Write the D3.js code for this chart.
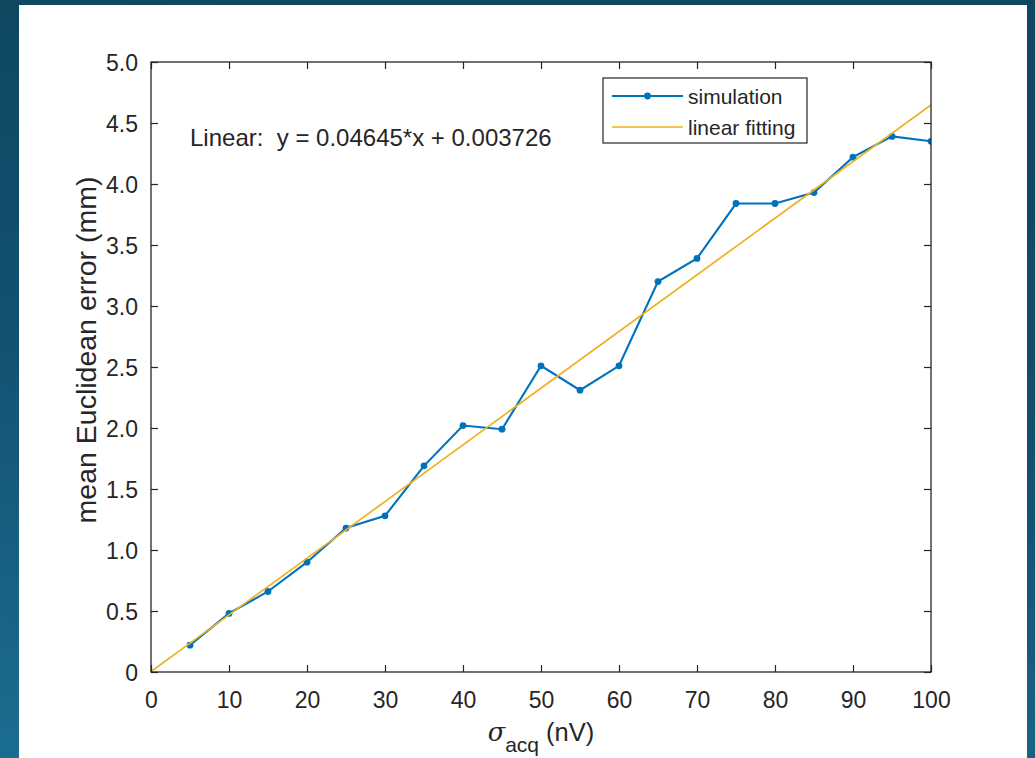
<!DOCTYPE html>
<html>
<head>
<meta charset="utf-8">
<script src="https://cdn.jsdelivr.net/npm/d3@7"></script>
<style>
  html, body { margin: 0; padding: 0; }
  body { width: 1035px; height: 758px; overflow: hidden; }
  text { font-family: "Liberation Sans", Arial, Helvetica, sans-serif; fill: #262626; white-space: pre; }
</style>
</head>
<body>
<svg id="chart" width="1035" height="758"></svg>
<script>
// ---- data ----
const sigma = [5, 10, 15, 20, 25, 30, 35, 40, 45, 50, 55, 60, 65, 70, 75, 80, 85, 90, 95, 100];
const meanError = [0.22, 0.48, 0.66, 0.90, 1.18, 1.28, 1.69, 2.02, 1.99, 2.51, 2.31, 2.51, 3.20, 3.39, 3.84, 3.84, 3.93, 4.22, 4.39, 4.35];
const fitSlope = 0.04645;
const fitIntercept = 0.003726;
const fitX = [0, 100];
const xTicks = [0, 10, 20, 30, 40, 50, 60, 70, 80, 90, 100];
const yTicks = [0, 0.5, 1.0, 1.5, 2.0, 2.5, 3.0, 3.5, 4.0, 4.5, 5.0];
const legendLabels = ["simulation", "linear fitting"];
const annotation = "Linear:  y = 0.04645*x + 0.003726";

const svg = d3.select("#chart");
const W = 1035, H = 758;

// background
const defs = svg.append("defs");
const grad = defs.append("linearGradient").attr("id", "bg")
  .attr("x1", "0.2").attr("y1", "0").attr("x2", "0").attr("y2", "1");
grad.append("stop").attr("offset", "0").attr("stop-color", "#0f4660");
grad.append("stop").attr("offset", "0.45").attr("stop-color", "#125170");
grad.append("stop").attr("offset", "1").attr("stop-color", "#1b6d90");
svg.append("rect").attr("width", W).attr("height", H).attr("fill", "url(#bg)");
svg.append("rect").attr("x", 19).attr("y", 5).attr("width", 1008).attr("height", 760).attr("fill", "#ffffff");

const plot = { left: 151, right: 931, top: 62, bottom: 672 };
const x = d3.scaleLinear().domain([0, 100]).range([plot.left, plot.right]);
const y = d3.scaleLinear().domain([0, 5]).range([plot.bottom, plot.top]);

const axisColor = "#262626";
const tickLen = 7;

// fit line
const fitLine = d3.line().x(d => x(d)).y(d => y(fitSlope * d + fitIntercept));
const clip = defs.append("clipPath").attr("id", "clip");
clip.append("rect").attr("x", plot.left).attr("y", plot.top)
  .attr("width", plot.right - plot.left).attr("height", plot.bottom - plot.top);

const g = svg.append("g").attr("clip-path", "url(#clip)");

// simulation line
const simLine = d3.line().x((d, i) => x(sigma[i])).y(d => y(d));
g.append("path").datum(meanError).attr("d", simLine)
  .attr("fill", "none").attr("stroke", "#0072BD").attr("stroke-width", 2.1);
g.selectAll("circle.pt").data(meanError).enter().append("circle")
  .attr("class", "pt").attr("cx", (d, i) => x(sigma[i])).attr("cy", d => y(d))
  .attr("r", 3.4).attr("fill", "#0072BD");

g.append("path").datum(fitX).attr("d", fitLine)
  .attr("fill", "none").attr("stroke", "#EDB120").attr("stroke-width", 1.7);

// axes
const fontTick = 23;
const xAxis = d3.axisBottom(x).tickValues(xTicks).tickSize(-tickLen).tickPadding(20)
  .tickFormat(d3.format("d"));
const gx = svg.append("g").attr("transform", `translate(0,${plot.bottom})`).call(xAxis);
const xAxisTop = d3.axisTop(x).tickValues(xTicks).tickSize(-tickLen).tickFormat("");
const gxt = svg.append("g").attr("transform", `translate(0,${plot.top})`).call(xAxisTop);

const yFmt = d => d === 0 ? "0" : d3.format(".1f")(d);
const yAxis = d3.axisLeft(y).tickValues(yTicks).tickSize(-tickLen).tickPadding(13).tickFormat(yFmt);
const gy = svg.append("g").attr("transform", `translate(${plot.left},0)`).call(yAxis);
const yAxisR = d3.axisRight(y).tickValues(yTicks).tickSize(-tickLen).tickFormat("");
const gyr = svg.append("g").attr("transform", `translate(${plot.right},0)`).call(yAxisR);

[gx, gxt, gy, gyr].forEach(a => {
  a.select(".domain").remove();
  a.selectAll(".tick line").attr("stroke", axisColor).attr("stroke-width", 1.2);
  a.selectAll(".tick text").attr("font-size", fontTick)
    .attr("font-family", "'Liberation Sans', Arial, sans-serif").attr("fill", "#262626");
});
gy.selectAll(".tick text").attr("dy", "0.36em");
gx.selectAll(".tick text").attr("dy", "0.71em").attr("y", 20);

// box
svg.append("rect").attr("x", plot.left).attr("y", plot.top)
  .attr("width", plot.right - plot.left).attr("height", plot.bottom - plot.top)
  .attr("fill", "none").attr("stroke", axisColor).attr("stroke-width", 1.3);

// x label
const xl = svg.append("text").attr("x", (plot.left + plot.right) / 2).attr("y", 741)
  .attr("text-anchor", "middle").attr("font-size", 25.5);
xl.append("tspan").attr("font-style", "italic").attr("font-family", "'DejaVu Serif', serif").text("σ");
xl.append("tspan").attr("font-size", 21).attr("dy", 11).text("acq");
xl.append("tspan").attr("dy", -11).text(" (nV)");

// y label
svg.append("text")
  .attr("transform", `translate(96,350) rotate(-90)`)
  .attr("text-anchor", "middle").attr("font-size", 28.5)
  .text("mean Euclidean error (mm)");

// annotation
svg.append("text").attr("x", 190).attr("y", 146).attr("font-size", 24)
  .attr("xml:space", "preserve").text(annotation);

// legend
const lg = svg.append("g");
lg.append("rect").attr("x", 603).attr("y", 78).attr("width", 204).attr("height", 65)
  .attr("fill", "#fff").attr("stroke", axisColor).attr("stroke-width", 1.2);
const legendColors = ["#0072BD", "#EDB120"];
const legendY = [96, 127];
legendLabels.forEach((lab, i) => {
  lg.append("line").attr("x1", 612).attr("x2", 683).attr("y1", legendY[i]).attr("y2", legendY[i])
    .attr("stroke", legendColors[i]).attr("stroke-width", i === 0 ? 2.1 : 1.7);
  if (i === 0) lg.append("circle").attr("cx", 647.5).attr("cy", legendY[i]).attr("r", 3.4).attr("fill", legendColors[i]);
  lg.append("text").attr("x", 688).attr("y", legendY[i] + 7.5).attr("font-size", 21).text(lab);
});
</script>
</body>
</html>
